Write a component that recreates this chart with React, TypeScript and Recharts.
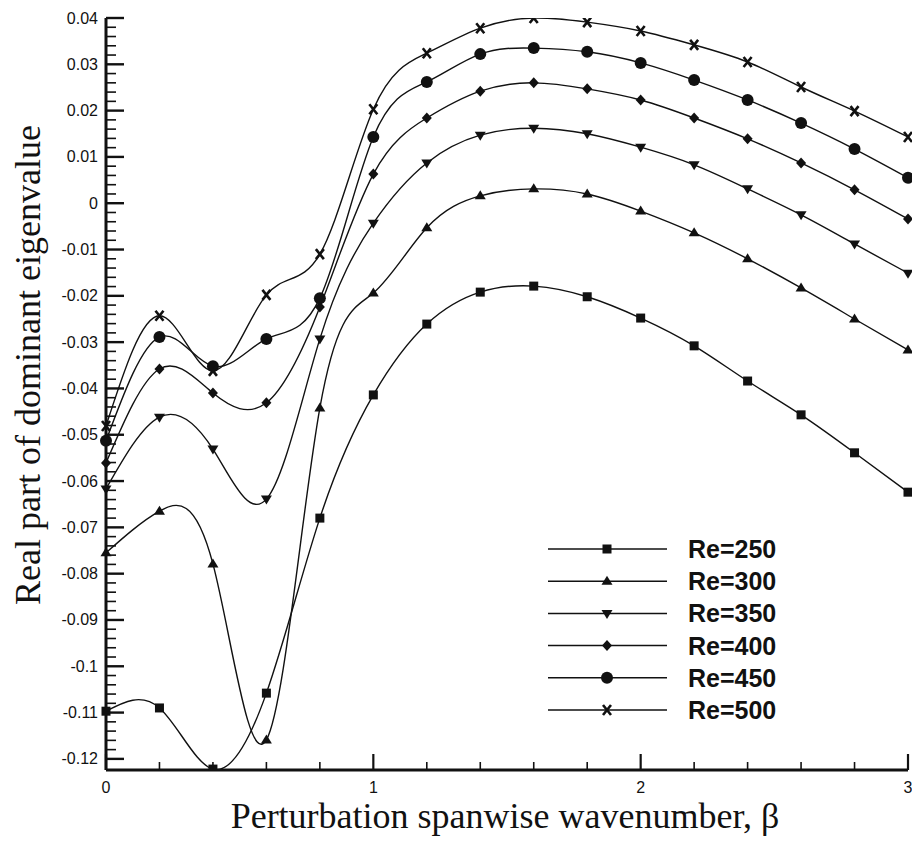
import { Legend, Line, LineChart, XAxis, YAxis } from 'recharts';

// spanwise wavenumber beta
const beta = [0, 0.2, 0.4, 0.6, 0.8, 1, 1.2, 1.4, 1.6, 1.8, 2, 2.2, 2.4, 2.6, 2.8, 3];

// real part of dominant eigenvalue, one list per Reynolds number
const re250 = [-0.1097, -0.109, -0.1222, -0.1058, -0.068, -0.0414, -0.0261, -0.0192, -0.0179, -0.0202, -0.0248, -0.0308, -0.0384, -0.0457, -0.0539, -0.0624];
const re300 = [-0.0755, -0.0665, -0.0779, -0.1159, -0.0442, -0.0194, -0.0053, 0.0016, 0.0031, 0.002, -0.0017, -0.0064, -0.012, -0.0183, -0.025, -0.0317];
const re350 = [-0.0617, -0.0462, -0.0531, -0.0639, -0.0293, -0.0043, 0.0087, 0.0147, 0.0162, 0.015, 0.0121, 0.0083, 0.0031, -0.0025, -0.0088, -0.0151];
const re400 = [-0.0561, -0.0358, -0.041, -0.0431, -0.0224, 0.0063, 0.0184, 0.0242, 0.026, 0.0247, 0.0223, 0.0184, 0.0139, 0.0087, 0.0029, -0.0034];
const re450 = [-0.0513, -0.0289, -0.0352, -0.0293, -0.0205, 0.0143, 0.0262, 0.0322, 0.0335, 0.0327, 0.0303, 0.0266, 0.0223, 0.0173, 0.0117, 0.0055];
const re500 = [-0.0481, -0.0243, -0.0362, -0.0198, -0.011, 0.0203, 0.0324, 0.0378, 0.04, 0.0391, 0.0372, 0.0342, 0.0305, 0.0251, 0.0199, 0.0143];

const seriesKeys = ['re250', 're300', 're350', 're400', 're450', 're500'];
const seriesNames = ['Re=250', 'Re=300', 'Re=350', 'Re=400', 'Re=450', 'Re=500'];
const seriesShapes = ['square', 'triUp', 'triDown', 'diamond', 'circle', 'cross'];

const xTicks = [0, 0.2, 0.4, 0.6, 0.8, 1, 1.2, 1.4, 1.6, 1.8, 2, 2.2, 2.4, 2.6, 2.8, 3];
const xTickLabels = ['0', '1', '2', '3'];

const yMajor = [0.04, 0.03, 0.02, 0.01, 0, -0.01, -0.02, -0.03, -0.04, -0.05, -0.06, -0.07, -0.08, -0.09, -0.1, -0.11, -0.12];
const yTickLabels = ['0.04', '0.03', '0.02', '0.01', '0', '-0.01', '-0.02', '-0.03', '-0.04', '-0.05', '-0.06', '-0.07', '-0.08', '-0.09', '-0.1', '-0.11', '-0.12'];

// 4 minor ticks between each labelled one
const yTicks: number[] = [];
yMajor.forEach((m, i) => {
  yTicks.push(m);
  if (i < yMajor.length - 1) {
    for (let k = 1; k <= 4; k++) yTicks.push(+(m - k * 0.002).toFixed(4));
  }
});

const data = beta.map((b, i) => ({
  beta: b,
  re250: re250[i],
  re300: re300[i],
  re350: re350[i],
  re400: re400[i],
  re450: re450[i],
  re500: re500[i],
}));

const INK = '#111';
const SANS = '"Liberation Sans", Arial, Helvetica, sans-serif';
const SERIF = '"Liberation Serif", "Times New Roman", Times, serif';

function Marker({ shape, cx, cy }: { shape: string; cx: number; cy: number }) {
  switch (shape) {
    case 'square':
      return <rect x={cx - 4.5} y={cy - 4.5} width={9} height={9} fill={INK} />;
    case 'triUp':
      return <polygon points={`${cx},${cy - 5.5} ${cx + 5.5},${cy + 3.5} ${cx - 5.5},${cy + 3.5}`} fill={INK} />;
    case 'triDown':
      return <polygon points={`${cx},${cy + 5.5} ${cx + 5.5},${cy - 3.5} ${cx - 5.5},${cy - 3.5}`} fill={INK} />;
    case 'diamond':
      return <polygon points={`${cx},${cy - 5.5} ${cx + 5},${cy} ${cx},${cy + 5.5} ${cx - 5},${cy}`} fill={INK} />;
    case 'circle':
      return <circle cx={cx} cy={cy} r={6} fill={INK} />;
    default:
      return (
        <path
          d={`M${cx - 4},${cy - 5}L${cx + 4},${cy + 5}M${cx + 4},${cy - 5}L${cx - 4},${cy + 5}`}
          stroke={INK}
          strokeWidth={2.6}
          fill="none"
        />
      );
  }
}

const makeDot = (shape: string) => (props: any) => {
  const { cx, cy, index } = props;
  if (cx == null || cy == null) return <g key={`${shape}-${index}`} />;
  return (
    <g key={`${shape}-${index}`}>
      <Marker shape={shape} cx={cx} cy={cy} />
    </g>
  );
};

function XTick(props: any) {
  const { x, y, payload } = props;
  const v = payload.value as number;
  const major = Math.abs(v - Math.round(v)) < 1e-9;
  return (
    <g>
      <line x1={x} x2={x} y1={y} y2={y - (major ? 16 : 8)} stroke={INK} strokeWidth={major ? 2.2 : 1.6} />
      {major && (
        <text x={x} y={y + 17} textAnchor="middle" dominantBaseline="central" fontFamily={SANS} fontSize={16} fill={INK}>
          {xTickLabels[Math.round(v)]}
        </text>
      )}
    </g>
  );
}

function YTick(props: any) {
  const { x, y, payload } = props;
  const v = payload.value as number;
  const idx = yMajor.findIndex((m) => Math.abs(m - v) < 1e-6);
  const major = idx >= 0;
  return (
    <g>
      <line x1={x} x2={x + (major ? 18 : 10)} y1={y} y2={y} stroke={INK} strokeWidth={major ? 2.4 : 1.6} />
      {major && (
        <text x={x - 8} y={y} textAnchor="end" dominantBaseline="central" fontFamily={SANS} fontSize={16} fill={INK}>
          {yTickLabels[idx]}
        </text>
      )}
    </g>
  );
}

function LegendBox({ payload }: any) {
  const items = (payload || []).filter((p: any) => seriesKeys.includes(p.dataKey));
  return (
    <svg width={280} height={210}>
      {items.map((p: any, i: number) => {
        const k = seriesKeys.indexOf(p.dataKey);
        const y = 19 + i * 32.2;
        return (
          <g key={p.dataKey}>
            <line x1={8} x2={127} y1={y} y2={y} stroke={INK} strokeWidth={1.5} />
            <Marker shape={seriesShapes[k]} cx={67} cy={y} />
            <text x={148} y={y} dominantBaseline="central" fontFamily={SANS} fontSize={25} fontWeight={600} fill={INK}>
              {seriesNames[k]}
            </text>
          </g>
        );
      })}
    </svg>
  );
}

export default function App() {
  return (
    <div style={{ position: 'absolute', left: 0, top: 0, background: '#fff' }}>
      <LineChart width={912} height={841} data={data} margin={{ top: 18, right: 4, left: 0, bottom: 0 }}>
        <XAxis
          dataKey="beta"
          type="number"
          domain={[0, 3]}
          ticks={xTicks}
          interval={0}
          height={71}
          tickSize={0}
          tickMargin={0}
          tickLine={false}
          axisLine={{ stroke: INK, strokeWidth: 3 }}
          tick={<XTick />}
          label={() => (
            <text x={505} y={828} textAnchor="middle" fontFamily={SERIF} fontSize={36} fill={INK}>
              Perturbation spanwise wavenumber, β
            </text>
          )}
        />
        <YAxis
          type="number"
          domain={[-0.1224, 0.04]}
          allowDataOverflow
          ticks={yTicks}
          interval={0}
          width={106}
          tickSize={0}
          tickMargin={0}
          tickLine={false}
          axisLine={{ stroke: INK, strokeWidth: 3 }}
          tick={<YTick />}
          label={() => (
            <text
              x={28}
              y={365}
              transform="rotate(-90 28 365)"
              textAnchor="middle"
              dominantBaseline="central"
              fontFamily={SERIF}
              fontSize={36}
              fill={INK}
            >
              Real part of dominant eigenvalue
            </text>
          )}
        />
        <Legend
          layout="vertical"
          align="center"
          verticalAlign="middle"
          wrapperStyle={{ position: 'absolute', left: 540, top: 530, width: 280, height: 210 }}
          content={<LegendBox />}
        />
        {seriesKeys.map((k, i) => (
          <Line
            key={k}
            dataKey={k}
            name={seriesNames[i]}
            type="natural"
            stroke={INK}
            strokeWidth={1.4}
            dot={makeDot(seriesShapes[i])}
            activeDot={false}
            isAnimationActive={false}
          />
        ))}
      </LineChart>
    </div>
  );
}
